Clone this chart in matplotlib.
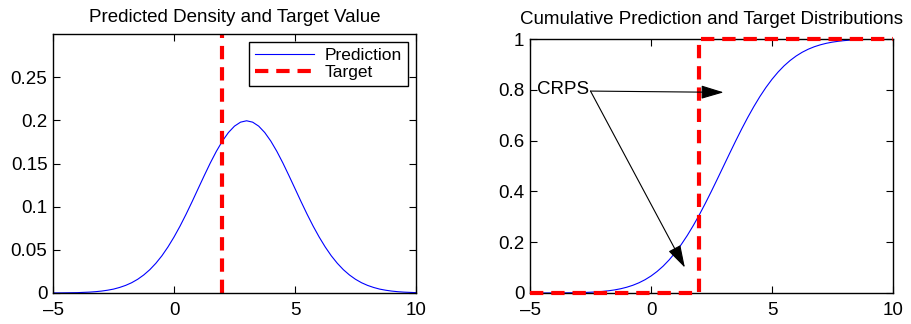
import numpy as np
import matplotlib
matplotlib.use('Agg')
import matplotlib.pyplot as plt
from matplotlib.ticker import FuncFormatter

plt.rcParams['font.family'] = ['Liberation Sans', 'DejaVu Sans']

# values (x grid -5..10, step 0.25)
x = [-5, -4.75, -4.5, -4.25, -4, -3.75, -3.5, -3.25, -3, -2.75, -2.5, -2.25,
     -2, -1.75, -1.5, -1.25, -1, -0.75, -0.5, -0.25, 0, 0.25, 0.5, 0.75,
     1, 1.25, 1.5, 1.75, 2, 2.25, 2.5, 2.75, 3, 3.25, 3.5, 3.75,
     4, 4.25, 4.5, 4.75, 5, 5.25, 5.5, 5.75, 6, 6.25, 6.5, 6.75,
     7, 7.25, 7.5, 7.75, 8, 8.25, 8.5, 8.75, 9, 9.25, 9.5, 9.75, 10]
density = [0.0001, 0.0001, 0.0002, 0.0003, 0.0004, 0.0007, 0.0010, 0.0015,
           0.0022, 0.0032, 0.0045, 0.0064, 0.0088, 0.0119, 0.0159, 0.0209,
           0.0270, 0.0344, 0.0431, 0.0533, 0.0648, 0.0775, 0.0913, 0.1059,
           0.1210, 0.1360, 0.1506, 0.1641, 0.1760, 0.1859, 0.1933, 0.1979,
           0.1995, 0.1979, 0.1933, 0.1859, 0.1760, 0.1641, 0.1506, 0.1360,
           0.1210, 0.1059, 0.0913, 0.0775, 0.0648, 0.0533, 0.0431, 0.0344,
           0.0270, 0.0209, 0.0159, 0.0119, 0.0088, 0.0064, 0.0045, 0.0032,
           0.0022, 0.0015, 0.0010, 0.0007, 0.0004]
cumulative = [0.0000, 0.0001, 0.0001, 0.0001, 0.0002, 0.0004, 0.0006, 0.0009,
              0.0013, 0.0020, 0.0030, 0.0043, 0.0062, 0.0088, 0.0122, 0.0168,
              0.0228, 0.0304, 0.0401, 0.0521, 0.0668, 0.0846, 0.1056, 0.1303,
              0.1587, 0.1908, 0.2266, 0.2660, 0.3085, 0.3538, 0.4013, 0.4503,
              0.5, 0.5497, 0.5987, 0.6462, 0.6915, 0.7340, 0.7734, 0.8092,
              0.8413, 0.8697, 0.8944, 0.9154, 0.9332, 0.9479, 0.9599, 0.9696,
              0.9772, 0.9832, 0.9878, 0.9912, 0.9938, 0.9957, 0.9970, 0.9980,
              0.9987, 0.9991, 0.9994, 0.9996, 0.9998]
target = 2
target_cdf_x = [-5, 2, 2, 10]
target_cdf_y = [0, 0, 1, 1]

fs = 13.5
dash = (3.2, 1.9)

fig = plt.figure(figsize=(9.11, 3.24), dpi=100)
ax1 = fig.add_axes([0.0582, 0.0957, 0.3984, 0.7993])
ax2 = fig.add_axes([0.5818, 0.0957, 0.3984, 0.7839])

def style(ax):
    ax.tick_params(direction='in', top=True, right=True, length=5,
                   width=0.8, labelsize=fs)
    ax.tick_params(axis='x', pad=6.5)
    ax.tick_params(axis='y', pad=4)
    for s in ax.spines.values():
        s.set_linewidth(1.0)
    ax.xaxis.set_major_formatter(FuncFormatter(lambda v, p: '%g' % v if v >= 0 else '\u2013%g' % -v))
    ax.yaxis.set_major_formatter(FuncFormatter(lambda v, p: '%g' % v))

#left: density
ax1.plot(x, density, color='#0000ff', lw=0.8, label='Prediction')
ax1.plot([target, target], [0, 0.3], color='#ff0000', lw=3, dashes=dash, label='Target')
ax1.set_xlim(-5, 10)
ax1.set_ylim(0, 0.3)
ax1.set_xticks([-5, 0, 5, 10])
ax1.set_yticks([0, 0.05, 0.1, 0.15, 0.2, 0.25])
style(ax1)
ax1.set_title('Predicted Density and Target Value', fontsize=fs, pad=9)
leg = ax1.legend(loc='upper right', fontsize=12.5, fancybox=False, framealpha=1,
                 edgecolor='k', handlelength=3.4, borderaxespad=0.45,
                 labelspacing=0.1, borderpad=0.35, handletextpad=0.6)
leg.get_frame().set_linewidth(1.0)

#right: cumulative
ax2.plot(x, cumulative, color='#0000ff', lw=0.8)
ax2.plot(target_cdf_x, target_cdf_y, color='#ff0000', lw=3, dashes=dash,
         clip_on=False, zorder=3)
ax2.set_xlim(-5, 10)
ax2.set_ylim(0, 1)
ax2.set_xticks([-5, 0, 5, 10])
ax2.set_yticks([0, 0.2, 0.4, 0.6, 0.8, 1])
style(ax2)
ax2.set_title('Cumulative Prediction and Target Distributions', fontsize=fs, pad=11)

ax2.text(-4.72, 0.8, 'CRPS', fontsize=fs, ha='left', va='center')
arrow = dict(arrowstyle='-|>,head_length=1.0,head_width=0.3', color='k',
             lw=0.8, mutation_scale=14, shrinkA=0, shrinkB=0)
ax2.annotate('', xy=(3.0, 0.79), xytext=(-2.5, 0.795), arrowprops=arrow)
ax2.annotate('', xy=(1.4, 0.1), xytext=(-2.5, 0.795), arrowprops=arrow)

fig.savefig('out.png', dpi=100)
